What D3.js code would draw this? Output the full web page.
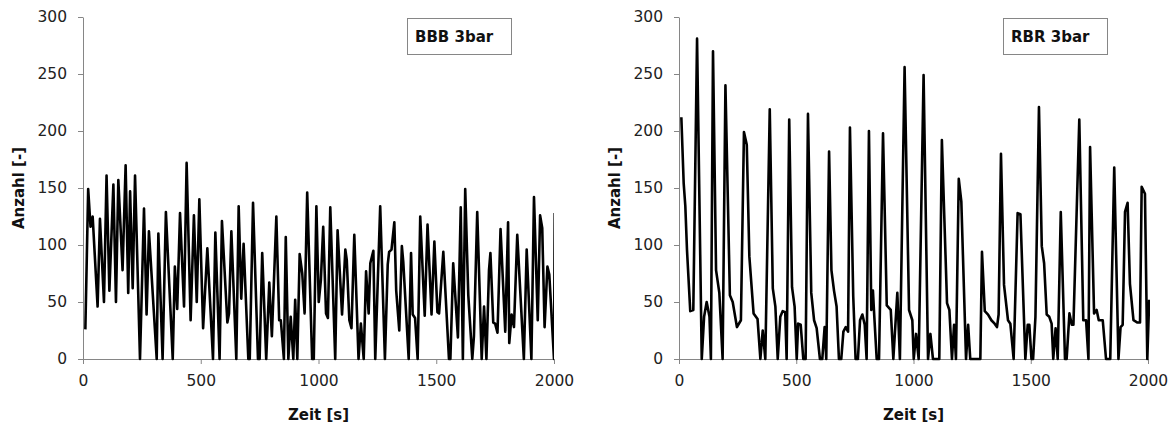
<!DOCTYPE html>
<html><head><meta charset="utf-8">
<script src="https://cdn.jsdelivr.net/npm/d3@7"></script>
<style>
body{margin:0;background:#fff;}
svg{display:block;}
text{font-family:'DejaVu Sans',sans-serif;}
</style>
</head><body>
<svg id="c" width="1172" height="434"></svg>
<script>
// ---------- data ----------
const xTicks = [0, 500, 1000, 1500, 2000];
const yTicks = [0, 50, 100, 150, 200, 250, 300];
const xTitle = "Zeit [s]";
const yTitle = "Anzahl [-]";
const seriesNames = ["BBB 3bar", "RBR 3bar"];

const bbbTime = [10,22,32,41,62,72,89,100,112,129,140,150,168,181,192,200,211,221,242,259,270,280,313,320,338,352,381,390,400,412,429,440,457,471,483,494,510,528,552,562,580,590,613,620,630,651,661,672,682,702,708,722,743,750,761,778,791,802,821,833,840,853,861,872,882,893,901,910,920,931,941,952,973,980,991,1001,1010,1020,1032,1040,1050,1071,1081,1100,1114,1120,1131,1140,1152,1170,1180,1192,1202,1213,1220,1233,1241,1262,1282,1294,1300,1310,1322,1330,1343,1354,1360,1383,1393,1400,1410,1421,1432,1451,1463,1480,1492,1505,1512,1530,1554,1560,1572,1592,1604,1613,1623,1636,1653,1660,1674,1693,1703,1713,1724,1730,1742,1750,1760,1773,1793,1805,1810,1820,1830,1844,1872,1884,1904,1915,1931,1941,1950,1960,1972,1980,2000,2003];
const bbbValue = [26,149,116,125,46,123,50,161,60,153,50,157,78,170,58,147,62,161,0,132,39,112,0,110,0,129,0,81,44,128,46,172,34,126,50,140,27,97,0,111,0,121,32,40,112,0,134,53,101,0,0,137,0,0,93,0,67,20,125,34,34,0,107,0,37,0,52,0,92,75,40,146,0,0,134,50,69,116,40,36,133,0,113,39,96,87,34,27,109,0,31,0,77,40,84,95,0,134,0,83,94,96,120,60,25,99,85,0,93,39,36,0,125,38,118,39,103,41,40,94,0,0,84,19,133,0,149,56,0,20,129,0,46,0,78,93,32,31,23,114,24,120,14,39,28,109,0,96,0,142,34,126,115,28,81,74,0,128];

const rbrTime = [10,20,27,34,48,61,77,97,107,118,130,136,145,158,172,186,198,217,229,247,264,277,289,300,318,335,347,357,368,387,400,411,421,432,442,453,459,470,482,493,502,508,519,530,540,550,564,576,587,601,611,621,628,640,650,661,672,682,692,701,711,721,729,743,753,763,772,782,792,800,810,820,827,831,843,853,870,886,903,914,931,942,962,981,995,1001,1011,1022,1043,1062,1072,1083,1110,1121,1143,1153,1164,1173,1181,1193,1204,1224,1233,1242,1285,1292,1304,1318,1332,1346,1356,1363,1373,1386,1403,1413,1427,1444,1456,1477,1487,1494,1503,1510,1520,1535,1547,1557,1568,1579,1589,1596,1606,1615,1628,1646,1653,1665,1675,1682,1707,1724,1736,1746,1753,1770,1781,1790,1807,1821,1839,1856,1874,1883,1892,1902,1913,1923,1938,1955,1966,1973,1987,1997,2005];
const rbrValue = [212,154,134,96,42,43,281,0,37,50,37,0,270,78,58,0,240,56,50,28,34,199,188,90,40,35,0,25,0,219,62,46,0,37,42,41,0,210,63,46,0,31,30,0,0,215,58,34,27,0,0,28,0,182,78,60,46,0,0,24,28,24,203,55,0,0,34,39,30,0,200,43,60,44,0,0,198,47,43,0,58,0,256,43,34,0,22,0,249,0,22,0,0,192,49,43,0,30,0,158,138,0,30,0,0,94,42,39,34,31,28,39,180,65,34,31,0,128,127,0,30,30,0,0,37,221,99,84,39,37,31,0,27,0,129,0,0,40,30,30,210,34,34,0,186,40,43,34,34,0,0,168,0,28,30,129,137,66,34,32,32,151,145,0,52];

// ---------- layout ----------
const plotTop = 17, plotBottom = 359;
const panels = [
  {name: seriesNames[0], t: bbbTime, v: bbbValue, left: 83, right: 554, yTitleX: 24, clipExtra: 0},
  {name: seriesNames[1], t: rbrTime, v: rbrValue, left: 679, right: 1148, yTitleX: 620, clipExtra: 2}
];
const axisColor = "#868686";
const fmt = d3.format("d");

const svg = d3.select("#c");

panels.forEach((p, pi) => {
  const x = d3.scaleLinear().domain([0, 2000]).range([p.left, p.right]);
  const y = d3.scaleLinear().domain([0, 300]).range([plotBottom, plotTop]);
  const g = svg.append("g");

  // axes
  const xa = g.append("g").attr("transform", `translate(0,${plotBottom})`)
    .call(d3.axisBottom(x).tickValues(xTicks).tickFormat(fmt).tickSize(5).tickSizeOuter(0).tickPadding(11));
  const ya = g.append("g").attr("transform", `translate(${p.left},0)`)
    .call(d3.axisLeft(y).tickValues(yTicks).tickFormat(fmt).tickSize(5).tickSizeOuter(0).tickPadding(11));
  [xa, ya].forEach(a => {
    a.select(".domain").attr("stroke", axisColor).attr("stroke-width", 1);
    a.selectAll(".tick line").attr("stroke", axisColor).attr("stroke-width", 1);
    a.selectAll(".tick text").attr("fill", "#222").style("font-size", "15.5px")
      .style("font-family", "'DejaVu Sans',sans-serif");
  });

  // clip
  const cid = "clip" + pi;
  svg.append("defs").append("clipPath").attr("id", cid)
    .append("rect").attr("x", p.left).attr("y", plotTop - 10)
    .attr("width", p.right - p.left + p.clipExtra).attr("height", plotBottom - plotTop + 14);

  // line
  const idx = d3.range(p.t.length);
  const line = d3.line().x(i => x(p.t[i])).y(i => y(p.v[i]));
  g.append("path").datum(idx).attr("d", line)
    .attr("clip-path", `url(#${cid})`)
    .attr("fill", "none").attr("stroke", "#000").attr("stroke-width", 2.6)
    .attr("stroke-linejoin", "round").attr("stroke-linecap", "butt");

  // titles
  g.append("text").attr("x", (p.left + p.right) / 2).attr("y", 420)
    .attr("text-anchor", "middle").style("font-size", "15px").style("font-weight", "bold")
    .attr("fill", "#111").text(xTitle);
  g.append("text").attr("transform", `translate(${p.yTitleX},${(plotTop + plotBottom) / 2}) rotate(-90)`)
    .attr("text-anchor", "middle").style("font-size", "15px").style("font-weight", "bold")
    .attr("fill", "#111").text(yTitle);

  // legend box
  const bx = p.left + 324, by = 18, bw = 104, bh = 36;
  g.append("rect").attr("x", bx + 0.5).attr("y", by + 0.5).attr("width", bw).attr("height", bh)
    .attr("fill", "#fff").attr("stroke", axisColor).attr("stroke-width", 1);
  g.append("text").attr("x", bx + 8).attr("y", by + bh / 2 + 6)
    .style("font-size", "15px").style("font-weight", "bold").attr("fill", "#111").text(p.name);
});
</script>
</body></html>
